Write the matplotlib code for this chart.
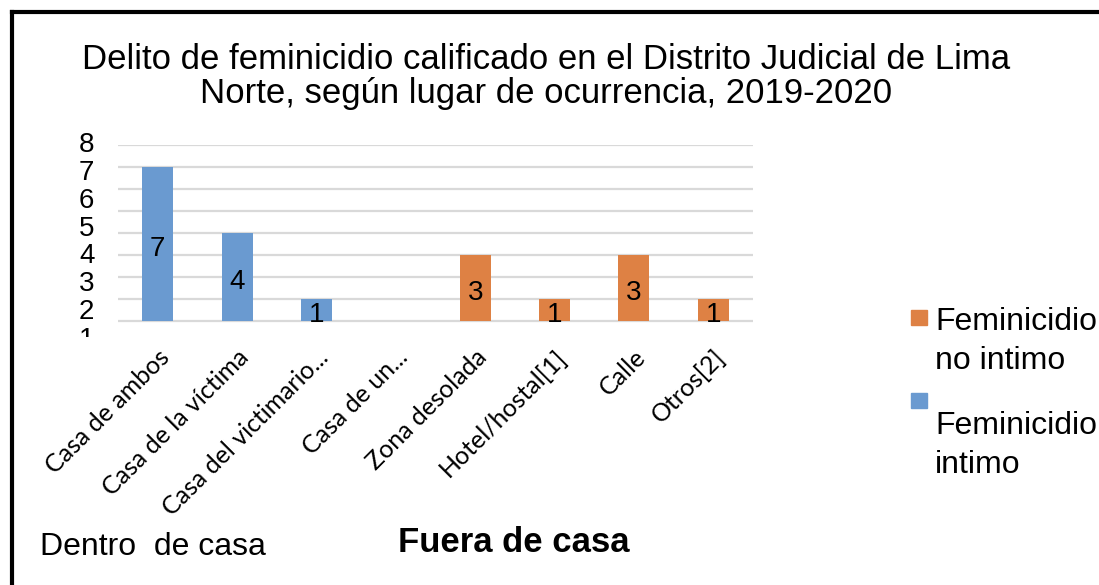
import numpy as np
import matplotlib.pyplot as plt
from matplotlib.patches import Rectangle
from matplotlib.lines import Line2D

categories = ["Casa de ambos", "Casa de la víctima", "Casa del victimario...",
              "Casa de un...", "Zona desolada", "Hotel/hostal[1]", "Calle", "Otros[2]"]
intimo = [7, 4, 1, 0, 0, 0, 0, 0]
no_intimo = [0, 0, 0, 0, 3, 1, 3, 1]
ytick_labels = ["8", "7", "6", "5", "4", "3", "2", "1"]
title_lines = ["Delito de feminicidio calificado en el Distrito Judicial de Lima",
               "Norte, según lugar de ocurrencia, 2019-2020"]
legend_labels = ["Feminicidio\nno intimo", "Feminicidio\nintimo"]

blue = "#6A9AD0"
orange = "#DE8144"
W, H = 1099, 585

plt.rcParams['font.family'] = ['Liberation Sans', 'DejaVu Sans']

fig = plt.figure(figsize=(W / 100, H / 100), dpi=100)
fx = lambda px: px / W
fy = lambda py: 1 - py / H

ax = fig.add_axes([fx(118), fy(326), fx(753) - fx(118), fy(145) - fy(326)])
x = np.arange(len(categories))

ax.bar(x, intimo, width=0.39, color=blue, zorder=2)
ax.bar(x, no_intimo, width=0.39, color=orange, zorder=2)

# etiquetas de valor dentro de las barras
for vals in (intimo, no_intimo):
    for xi, v in zip(x, vals):
        if v:
            ax.annotate(str(v), (xi, v / 2), xytext=(0, -4), textcoords='offset points',
                        ha='center', va='center', fontsize=20, zorder=3,
                        annotation_clip=False, clip_on=True)

ax.set_xlim(-0.5, len(categories) - 0.5)
ax.set_ylim(-0.25, 8)
ax.set_yticks(range(9))
ax.set_yticklabels([])
ax.grid(axis='y', color='#D9D9D9', linewidth=1.6, zorder=0)
ax.tick_params(length=0)
for s in ax.spines.values():
    s.set_visible(False)

ax.set_xticks(x)
ax.set_xticklabels(categories, rotation=45, ha='right', rotation_mode='anchor',
                   fontsize=18, family=['Lato', 'DejaVu Sans'])
ax.tick_params(axis='x', pad=14)

# etiquetas del eje y (desalineadas como en el original)
clip = Rectangle((0, fy(337)), 1, 1, transform=fig.transFigure, visible=False)
fig.add_artist(clip)
for i, lab in enumerate(ytick_labels):
    t = ax.annotate(lab, (0, 8 - 1.27 * i), xycoords=('axes fraction', 'data'),
                    xytext=(-17, 0), textcoords='offset points',
                    ha='right', va='center', fontsize=20, annotation_clip=False)
    t.set_clip_path(clip)

for i, line in enumerate(title_lines):
    fig.text(fx(546), fy(69 + 34 * i), line, ha='center', va='baseline', fontsize=25)

fig.text(fx(40), fy(555), "Dentro  de casa", va='baseline', fontsize=23)
fig.text(fx(398), fy(552), "Fuera de casa", va='baseline', fontsize=25, fontweight='bold')

# leyenda
for col, lab, ytop, ttop in [(orange, legend_labels[0], 310, 312),
                             (blue, legend_labels[1], 393, 416)]:
    fig.add_artist(Rectangle((fx(911), fy(ytop + 15)), fx(16), 15 / H,
                             transform=fig.transFigure, color=col))
    fig.text(fx(935), fy(ttop - 5), lab, va='top', fontsize=23, linespacing=1.4)

# marco
fig.add_artist(Line2D([fx(12), 1], [fy(12), fy(12)], color='black', lw=3))
fig.add_artist(Line2D([fx(12), fx(12)], [fy(12), 0], color='black', lw=3))

fig.savefig("out.png", dpi=100)
